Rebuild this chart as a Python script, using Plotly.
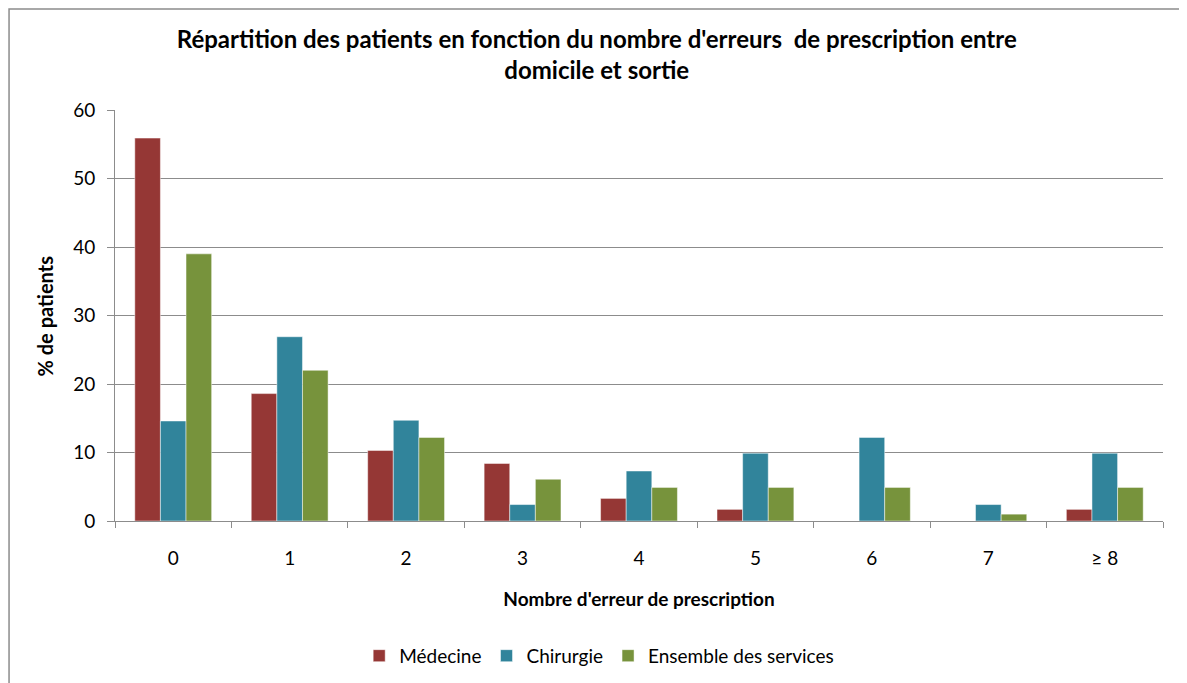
import plotly.graph_objects as go

# categories (number of prescription errors)
categories = ["0", "1", "2", "3", "4", "5", "6", "7", "≥ 8"]

# % of patients per service
medecine = [55.9, 18.6, 10.3, 8.4, 3.3, 1.7, 0, 0, 1.7]
chirurgie = [14.6, 26.9, 14.7, 2.4, 7.3, 9.9, 12.2, 2.4, 9.9]
ensemble = [39.0, 22.0, 12.2, 6.1, 4.9, 4.9, 4.9, 1.0, 4.9]

series_names = ["Médecine", "Chirurgie", "Ensemble des services"]
colors = ["#953735", "#31849B", "#77933C"]

y_ticks = [0, 10, 20, 30, 40, 50, 60]

FONT = "Lato"
GRID = "#8c8c8c"

fig = go.Figure()
for name, vals, col in zip(series_names, [medecine, chirurgie, ensemble], colors):
    fig.add_trace(go.Bar(
        x=categories,
        y=vals,
        name=name,
        marker=dict(color=col, line=dict(color="rgba(255,255,255,0.6)", width=0.8)),
    ))

fig.update_layout(
    width=1187,
    height=683,
    barmode="group",
    bargap=0.34,
    bargroupgap=0,
    margin=dict(l=107, r=32, t=102, b=170),
    plot_bgcolor="white",
    paper_bgcolor="white",
    font=dict(family=FONT, color="#000000", size=19),
    title=dict(
        text="<b>Répartition des patients en fonction du nombre d'erreurs  de prescription entre<br>domicile et sortie</b>",
        x=0.496, xanchor="center",
        y=0.941, yanchor="middle",
        font=dict(size=24, family=FONT, color="#000000"),
    ),
    showlegend=True,
    legend=dict(
        orientation="h",
        xanchor="center", x=0.462,
        yanchor="middle", y=-0.328,
        font=dict(size=19, family=FONT),
        traceorder="normal",
    ),
    xaxis=dict(
        type="category",
        tickson="boundaries",
        ticks="outside", ticklen=6, tickcolor=GRID,
        showline=True, linecolor=GRID, linewidth=1,
        showgrid=False,
        ticklabelstandoff=20,
        tickfont=dict(size=19, family=FONT),
        title=dict(text="<b>Nombre d'erreur de prescription</b>", font=dict(size=19, family=FONT), standoff=24),
    ),
    yaxis=dict(
        range=[0, 60],
        tickvals=y_ticks,
        ticks="outside", ticklen=7, tickcolor=GRID,
        showline=True, linecolor=GRID, linewidth=1,
        showgrid=True, gridcolor=GRID, gridwidth=1,
        zeroline=False,
        ticklabelstandoff=8,
        tickfont=dict(size=19, family=FONT),
    ),
    annotations=[dict(
        text="<b>% de patients</b>",
        xref="paper", yref="paper",
        x=-0.0668, y=0.5,
        xanchor="center", yanchor="middle",
        textangle=-90, showarrow=False,
        font=dict(size=20, family=FONT),
    )],
    shapes=[dict(
        type="rect", xref="paper", yref="paper",
        x0=-0.1011, x1=1.0219, y0=-0.45, y1=1.2457,
        line=dict(color="#8c8c8c", width=1.5),
        fillcolor="rgba(0,0,0,0)", layer="below",
    )],
)

fig.write_html("out.html")
